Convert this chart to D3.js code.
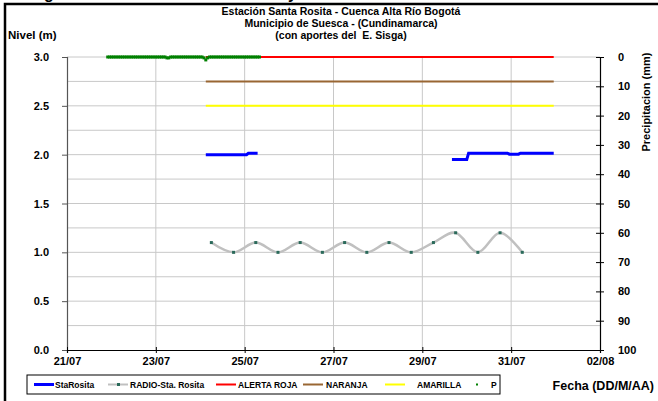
<!DOCTYPE html>
<html>
<head>
<meta charset="utf-8">
<script src="https://cdn.jsdelivr.net/npm/d3@7"></script>
<style>
  body { margin: 0; background: #fff; }
  svg { display: block; font-family: Arial, "Liberation Sans", sans-serif; font-weight: bold; }
</style>
</head>
<body>
<div id="chart"></div>
<script>
// legend order of the series
const seriesNames = ["StaRosita", "RADIO-Sta. Rosita", "ALERTA ROJA", "NARANJA", "AMARILLA", "P"];
const seriesColors = ["#0000ff", "#c0c0c0", "#ff0000", "#996633", "#ffff00", "#008000"];

// axis ticks
const dateTicks = ["2012-07-21", "2012-07-23", "2012-07-25", "2012-07-27", "2012-07-29", "2012-07-31", "2012-08-02"];
const levelTicks = [0, 0.5, 1.0, 1.5, 2.0, 2.5, 3.0];
const levelGrid = [0.25, 0.5, 0.75, 1.0, 1.25, 1.5, 1.75, 2.0, 2.25, 2.5, 2.75, 3.0];
const precipTicks = [0, 10, 20, 30, 40, 50, 60, 70, 80, 90, 100];

// nivel StaRosita (m), null = gap in the record
const staRositaTimes = [
  "2012-07-24T03:00", "2012-07-25T01:00", "2012-07-25T02:00", "2012-07-25T07:00",
  "2012-07-27T12:00",
  "2012-07-29T16:00", "2012-07-30T00:00", "2012-07-30T01:00", "2012-07-30T22:00",
  "2012-07-30T23:00", "2012-07-31T04:00", "2012-07-31T05:00", "2012-07-31T23:00"
];
const staRositaValues = [2.00, 2.00, 2.015, 2.015, null, 1.95, 1.95, 2.015, 2.015, 2.005, 2.005, 2.015, 2.015];

// nivel reportado por radio (m)
const radioTimes = [
  "2012-07-24T06:00", "2012-07-24T18:00", "2012-07-25T06:00", "2012-07-25T18:00",
  "2012-07-26T06:00", "2012-07-26T18:00", "2012-07-27T06:00", "2012-07-27T18:00",
  "2012-07-28T06:00", "2012-07-28T18:00", "2012-07-29T06:00", "2012-07-29T18:00",
  "2012-07-30T06:00", "2012-07-30T18:00", "2012-07-31T06:00"
];
const radioValues = [1.1, 1.0, 1.1, 1.0, 1.1, 1.0, 1.1, 1.0, 1.1, 1.0, 1.1, 1.2, 1.0, 1.2, 1.0];

// alert thresholds (m): roja, naranja, amarilla
const alertTimes = ["2012-07-24T03:00", "2012-07-31T23:00"];
const alertLevels = [3.0, 2.75, 2.5];

// hourly precipitation (mm) from 21/07 22:00
const precipStart = "2012-07-21T22:00";
const precipValues = [
  0, 0,
  0, 0, 0, 0, 0, 0, 0, 0, 0, 0, 0, 0, 0, 0, 0, 0, 0, 0, 0, 0, 0, 0, 0, 0,
  0, 0, 0, 0, 0, 0, 0.3, 0.3, 0, 0, 0, 0, 0, 0, 0, 0, 0, 0, 0, 0, 0, 0, 0, 0,
  0, 0, 0.3, 1.0, 0.3, 0, 0, 0, 0, 0, 0, 0, 0, 0, 0, 0, 0, 0, 0, 0, 0, 0, 0, 0,
  0, 0, 0, 0, 0, 0, 0, 0, 0
];

const width = 658, height = 401;
const margin = { top: 57, right: 58, bottom: 51, left: 67 };
const parse = d3.isoParse;

const svg = d3.select("#chart").append("svg")
  .attr("width", width)
  .attr("height", height);

const x = d3.scaleTime()
  .domain([parse(dateTicks[0]), parse(dateTicks[dateTicks.length - 1])])
  .range([margin.left, width - margin.right]);
const y = d3.scaleLinear().domain([0, 3]).range([height - margin.bottom, margin.top]);
const yP = d3.scaleLinear().domain([0, 100]).range([margin.top, height - margin.bottom]);

// outer frame (cut by the picture edges)
svg.append("rect")
  .attr("x", 5).attr("y", 4)
  .attr("width", 700).attr("height", 500)
  .attr("fill", "none").attr("stroke", "#000").attr("stroke-width", 2.5);

// fragments of the heading above, cut by the top edge
svg.append("text").attr("x", 44).attr("y", -1).attr("font-size", 16).text("g");
svg.append("text").attr("x", 288).attr("y", -1).attr("font-size", 16).text("y");

// gridlines
svg.append("g").selectAll("line")
  .data(levelGrid)
  .join("line")
  .attr("x1", margin.left).attr("x2", width - margin.right)
  .attr("y1", d => y(d)).attr("y2", d => y(d))
  .attr("stroke", "#c8c8c8").attr("stroke-width", 1);

svg.append("g").selectAll("line")
  .data(dateTicks.slice(1, -1))
  .join("line")
  .attr("x1", d => x(parse(d))).attr("x2", d => x(parse(d)))
  .attr("y1", margin.top).attr("y2", height - margin.bottom)
  .attr("stroke", "#c8c8c8").attr("stroke-width", 1);

// left axis
const gLeft = svg.append("g")
  .attr("transform", `translate(${margin.left},0)`)
  .call(d3.axisLeft(y).tickValues(levelTicks).tickFormat(d3.format(".1f")).tickSize(5).tickPadding(13));
gLeft.select(".domain").attr("stroke", "#555");
gLeft.selectAll(".tick line").attr("stroke", "#555");
gLeft.selectAll("text").attr("font-size", 11).attr("font-family", null).attr("fill", "#000");

// right axis
const gRight = svg.append("g")
  .attr("transform", `translate(${width - margin.right},0)`)
  .call(d3.axisRight(yP).tickValues(precipTicks).tickSize(4).tickPadding(14));
gRight.selectAll(".tick line").attr("x1", -4);
gRight.selectAll("text").attr("font-size", 11).attr("font-family", null);

// bottom axis
const gBottom = svg.append("g")
  .attr("transform", `translate(0,${height - margin.bottom})`)
  .call(d3.axisBottom(x).tickValues(dateTicks.map(parse)).tickFormat(d3.timeFormat("%d/%m")).tickSize(3).tickPadding(4));
gBottom.selectAll(".tick line").attr("y1", -3);
gBottom.selectAll("text").attr("font-size", 11).attr("font-family", null);
svg.selectAll(".domain").attr("stroke-width", 1.2);

// alert thresholds
const levelLine = d3.line()
  .defined(d => d[1] != null)
  .x(d => x(parse(d[0])))
  .y(d => y(d[1]));

alertLevels.forEach((lvl, i) => {
  svg.append("path")
    .datum(alertTimes.map(t => [t, lvl]))
    .attr("d", levelLine)
    .attr("fill", "none")
    .attr("stroke", seriesColors[2 + i])
    .attr("stroke-width", 2);
});

// StaRosita
svg.append("path")
  .datum(staRositaTimes.map((t, i) => [t, staRositaValues[i]]))
  .attr("d", levelLine)
  .attr("fill", "none")
  .attr("stroke", seriesColors[0])
  .attr("stroke-width", 3);

// RADIO-Sta. Rosita
const radioData = radioTimes.map((t, i) => [t, radioValues[i]]);
svg.append("path")
  .datum(radioData)
  .attr("d", levelLine.curve(d3.curveCardinal))
  .attr("fill", "none")
  .attr("stroke", seriesColors[1])
  .attr("stroke-width", 2.5);
levelLine.curve(d3.curveLinear);

svg.append("g").selectAll("rect")
  .data(radioData)
  .join("rect")
  .attr("x", d => x(parse(d[0])) - 1.5)
  .attr("y", d => y(d[1]) - 1.5)
  .attr("width", 3).attr("height", 3)
  .attr("fill", "#2a6a5a");

// P (secondary axis)
const p0 = parse(precipStart);
svg.append("g").selectAll("rect")
  .data(precipValues)
  .join("rect")
  .attr("x", (d, i) => x(d3.timeHour.offset(p0, i)) - 1.5)
  .attr("y", d => yP(d) - 1.5)
  .attr("width", 3).attr("height", 3)
  .attr("fill", seriesColors[5]);

// titles
const title = svg.append("text")
  .attr("x", 341)
  .attr("text-anchor", "middle")
  .attr("font-size", 10.5)
  .style("white-space", "pre");
["Estación Santa Rosita - Cuenca Alta Río Bogotá", "Municipio de Suesca - (Cundinamarca)", "(con aportes del  E. Sisga)"]
  .forEach((s, i) => title.append("tspan").attr("x", 341).attr("y", 15 + i * 12).text(s));

svg.append("text").attr("x", 8).attr("y", 39).attr("font-size", 11.5).text("Nivel (m)");

svg.append("text")
  .attr("transform", "translate(650,102) rotate(-90)")
  .attr("text-anchor", "middle")
  .attr("font-size", 11)
  .text("Precipitacion (mm)");

svg.append("text").attr("x", 654).attr("y", 390).attr("text-anchor", "end").attr("font-size", 12.5).text("Fecha (DD/M/AA)");

// legend
const legend = svg.append("g");
legend.append("rect")
  .attr("x", 27).attr("y", 375).attr("width", 473).attr("height", 19)
  .attr("fill", "#fff").attr("stroke", "#000").attr("stroke-width", 1);

const keyX = [34, 108, 216, 303, 385, 472];
const textX = [55, 130, 238, 326, 417, 491];
const keys = legend.selectAll(".key")
  .data(seriesNames)
  .join("g")
  .attr("class", "key");

keys.filter((d, i) => i < 5).append("line")
  .attr("x1", (d, i) => keyX[i]).attr("x2", (d, i) => keyX[i] + 20)
  .attr("y1", 384.5).attr("y2", 384.5)
  .attr("stroke", (d, i) => seriesColors[i])
  .attr("stroke-width", (d, i) => i === 0 ? 3 : 2);

legend.append("rect").attr("x", keyX[1] + 9).attr("y", 383).attr("width", 3).attr("height", 3).attr("fill", "#2a6a5a");
legend.append("rect").attr("x", keyX[5] + 4).attr("y", 383.5).attr("width", 2).attr("height", 2).attr("fill", seriesColors[5]);

keys.append("text")
  .attr("x", (d, i) => textX[i])
  .attr("y", 388)
  .attr("font-size", 8.5)
  .text(d => d);
</script>
</body>
</html>
